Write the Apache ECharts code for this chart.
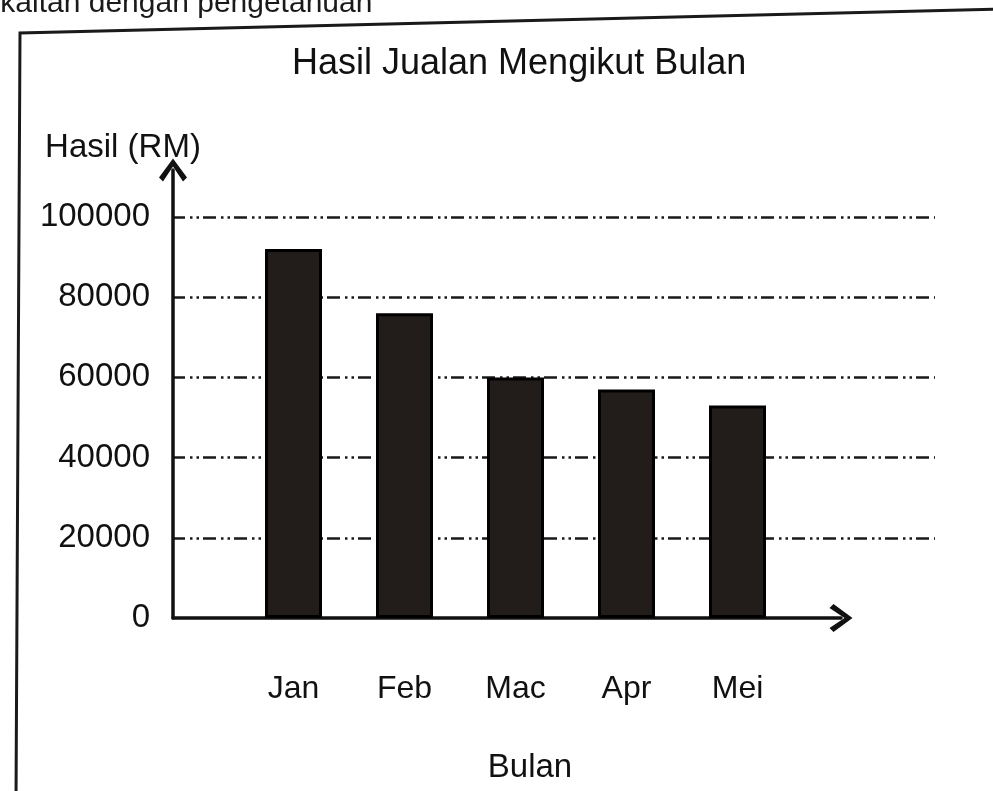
<!DOCTYPE html>
<html>
<head>
<meta charset="utf-8">
<script src="https://cdn.jsdelivr.net/npm/echarts@6/dist/echarts.min.js"></script>
<style>
  html, body { margin: 0; padding: 0; background: #ffffff; }
  #chart { width: 993px; height: 791px; }
</style>
</head>
<body>
<div id="chart"></div>
<script>
// ---- data ----
const categories = ['Jan', 'Feb', 'Mac', 'Apr', 'Mei'];
const salesValues = [92000, 76000, 60000, 57000, 53000];
const yMin = 0;
const yMax = 100000;
const yInterval = 20000;
const chartTitle = 'Hasil Jualan Mengikut Bulan';
const yName = 'Hasil (RM)';
const xName = 'Bulan';
const pageText = 'berkaitan dengan pengetahuan';

// ---- styling ----
const FONT = "'Liberation Sans', Arial, sans-serif";
const INK = '#111111';
const chevron = 'path://M14,0 L28,19 L24,23 L14,8 L4,23 L0,19 Z';
const axisLineStyle = { color: INK, width: 3.5 };

const chart = echarts.init(document.getElementById('chart'), null, { renderer: 'canvas' });

const option = {
  backgroundColor: '#ffffff',
  animation: false,
  title: {
    text: chartTitle,
    left: 292,
    top: 46,
    padding: 0,
    textStyle: { fontFamily: FONT, fontSize: 36, fontWeight: 'normal', color: INK }
  },
  graphic: [
    {
      type: 'polyline',
      shape: { points: [[16, 800], [20, 33], [1000, 9]] },
      style: { stroke: '#1a1a1a', lineWidth: 3, fill: null },
      silent: true
    },
    {
      type: 'text',
      x: -43,
      y: 19,
      style: {
        text: pageText,
        fontFamily: FONT,
        fontSize: 30,
        fill: '#1a1a1a',
        verticalAlign: 'bottom'
      },
      silent: true
    }
  ],
  grid: [
    { left: 172, right: 58, top: 217, bottom: 173 },
    { left: 173, right: 152, top: 170, bottom: 173 },
    { left: 238, width: 555, top: 217, bottom: 173 }
  ],
  xAxis: [
    { gridIndex: 0, type: 'value', min: 0, max: 1, show: false },
    {
      gridIndex: 1, type: 'value', min: 0, max: 1,
      axisLine: { show: true, onZero: false, symbol: ['none', chevron], symbolSize: [28, 24], lineStyle: axisLineStyle },
      axisTick: { show: false }, axisLabel: { show: false }, splitLine: { show: false }
    },
    {
      gridIndex: 2, type: 'category', data: categories,
      axisLine: { show: false }, axisTick: { show: false },
      axisLabel: { fontFamily: FONT, fontSize: 32, color: INK, margin: 55 },
      name: xName, nameLocation: 'middle', nameGap: 133,
      nameTextStyle: { fontFamily: FONT, fontSize: 33, color: INK, padding: [0, 0, 0, 29] }
    }
  ],
  yAxis: [
    {
      gridIndex: 0, type: 'value', min: yMin, max: yMax, interval: yInterval,
      axisLine: { show: false }, axisTick: { show: false },
      axisLabel: { fontFamily: FONT, fontSize: 33, color: INK, margin: 22, formatter: (v) => String(v) },
      splitLine: {
        show: true, showMinLine: false,
        lineStyle: { type: [13, 5, 2.5, 4, 2.5, 4], width: 2.5, color: '#1a1a1a' }
      }
    },
    {
      gridIndex: 1, type: 'value', min: 0, max: 1,
      axisLine: { show: true, onZero: false, symbol: ['none', chevron], symbolSize: [28, 24], lineStyle: axisLineStyle },
      axisTick: { show: false }, axisLabel: { show: false }, splitLine: { show: false },
      name: yName, nameLocation: 'end', nameGap: 6,
      nameTextStyle: { fontFamily: FONT, fontSize: 33, color: INK, align: 'center', padding: [0, 100, 0, 0] }
    },
    { gridIndex: 2, type: 'value', min: yMin, max: yMax, show: false }
  ],
  series: [
    {
      type: 'bar',
      xAxisIndex: 2,
      yAxisIndex: 2,
      data: salesValues,
      barWidth: 57,
      itemStyle: { color: '#221d1a', borderColor: '#000000', borderWidth: 3 }
    }
  ]
};

chart.setOption(option);
</script>
</body>
</html>
